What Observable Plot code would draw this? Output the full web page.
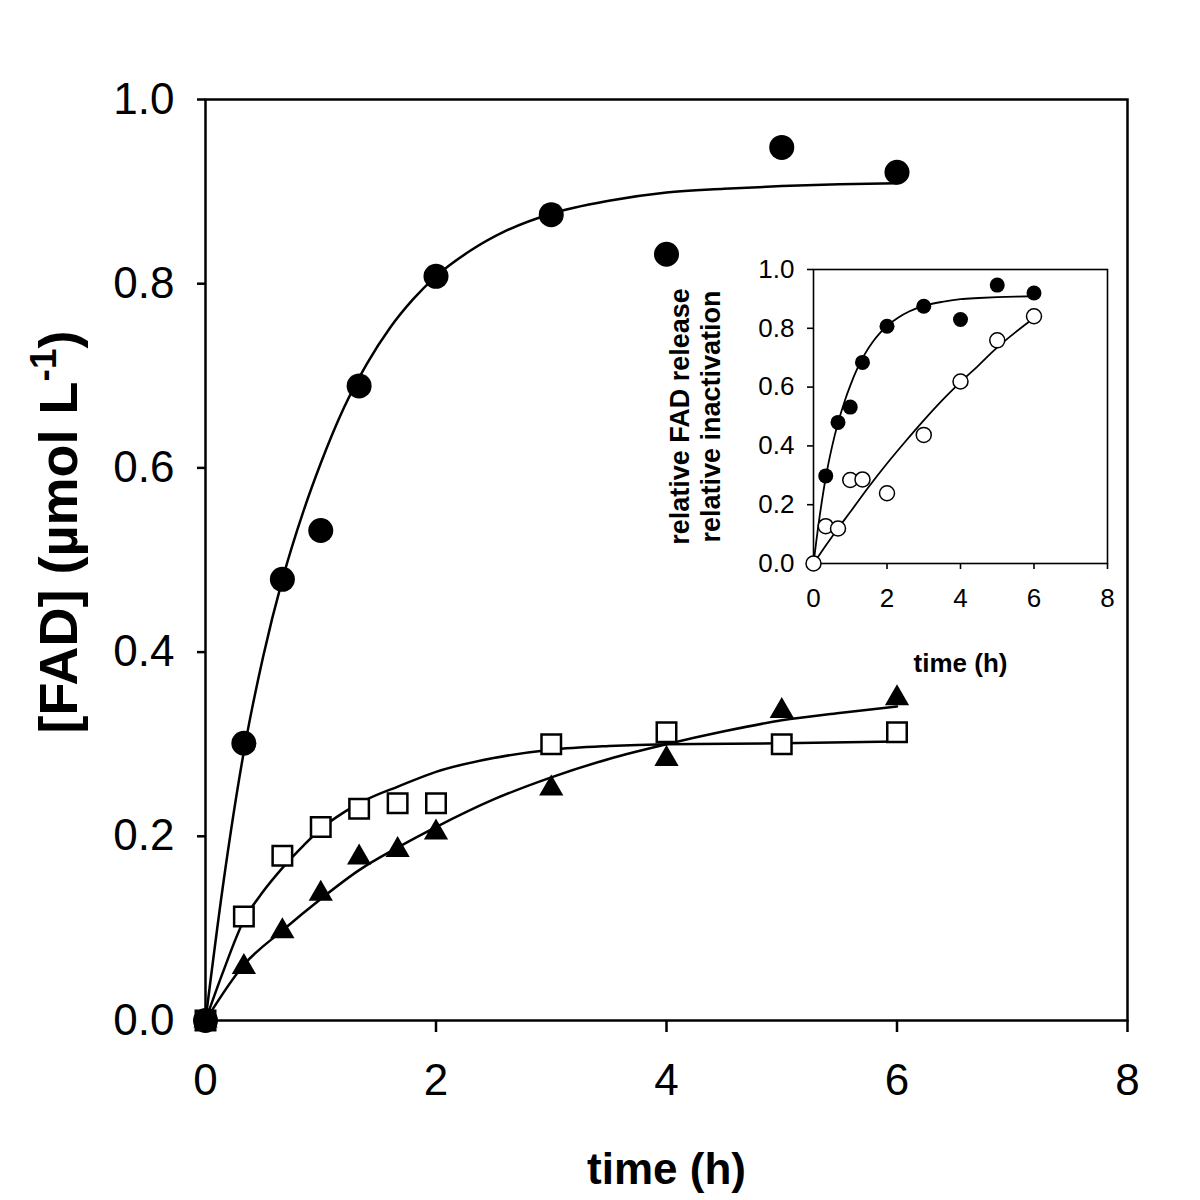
<!DOCTYPE html>
<html><head><meta charset="utf-8">
<script src="https://cdn.jsdelivr.net/npm/d3@7"></script>
<script src="https://cdn.jsdelivr.net/npm/@observablehq/plot@0.6"></script>
<style>
html,body{margin:0;padding:0;background:#fff;}
#wrap{position:relative;width:1200px;height:1200px;background:#fff;}
#main{position:absolute;left:0;top:0;}
#inset{position:absolute;left:640px;top:240px;}
</style></head>
<body><div id="wrap"><div id="main"></div><div id="inset"></div></div>
<script>
// ---- main chart data ----
const circleT = [0, 0.333, 0.667, 1, 1.333, 2, 3, 4, 5, 6];
const circleV = [0, 0.301, 0.479, 0.532, 0.689, 0.808, 0.875, 0.832, 0.948, 0.921];
const squareT = [0, 0.333, 0.667, 1, 1.333, 1.667, 2, 3, 4, 5, 6];
const squareV = [0, 0.113, 0.179, 0.210, 0.230, 0.236, 0.236, 0.300, 0.313, 0.300, 0.313];
const triT = [0, 0.333, 0.667, 1, 1.333, 1.667, 2, 3, 4, 5, 6];
const triV = [0, 0.058, 0.097, 0.1375, 0.177, 0.185, 0.204, 0.252, 0.284, 0.336, 0.350];

// fitted curves
const fitCircleT = [0, 0.15, 0.33, 0.5, 0.67, 0.85, 1, 1.2, 1.4, 1.6, 1.8, 2, 2.3, 2.6, 3, 3.5, 4, 4.5, 5, 5.5, 6];
const fitCircleV = [0, 0.145, 0.29, 0.395, 0.48, 0.553, 0.605, 0.665, 0.713, 0.752, 0.783, 0.808, 0.836, 0.857, 0.876, 0.890, 0.899, 0.903, 0.906, 0.908, 0.909];
const fitSquareT = [0, 0.15, 0.33, 0.5, 0.67, 0.85, 1, 1.2, 1.4, 1.67, 2, 2.5, 3, 3.5, 4, 5, 6];
const fitSquareV = [0, 0.052, 0.108, 0.14, 0.166, 0.19, 0.208, 0.226, 0.240, 0.254, 0.270, 0.285, 0.294, 0.298, 0.300, 0.301, 0.303];
const fitTriT = [0, 0.33, 0.67, 1, 1.33, 1.67, 2, 2.5, 3, 3.5, 4, 4.5, 5, 5.5, 6];
const fitTriV = [0, 0.060, 0.098, 0.132, 0.163, 0.188, 0.210, 0.240, 0.264, 0.284, 0.300, 0.314, 0.326, 0.334, 0.341];

// ---- inset data ----
const insetT = [0, 0.333, 0.667, 1, 1.333, 2, 3, 4, 5, 6];
const insetFadV = [0, 0.298, 0.480, 0.532, 0.684, 0.807, 0.875, 0.830, 0.947, 0.920];
const insetInactV = [0, 0.127, 0.119, 0.284, 0.286, 0.239, 0.4375, 0.619, 0.759, 0.841];
const fitInactT = [0, 0.33, 0.67, 1, 1.5, 2, 2.5, 3, 3.5, 4, 4.5, 5, 5.5, 6];
const fitInactV = [0, 0.06, 0.12, 0.175, 0.26, 0.34, 0.415, 0.487, 0.555, 0.617, 0.675, 0.735, 0.787, 0.835];

// ticks & labels
const xTicks = [0, 2, 4, 6, 8];
const yTicks = [0, 0.2, 0.4, 0.6, 0.8, 1.0];
const mainXLabel = "time (h)";
const mainYLabel = "[FAD] (µmol L-1)";
const insetXLabel = "time (h)";
const insetYLabel1 = "relative FAD release";
const insetYLabel2 = "relative inactivation";

const pts = (T, V) => T.map((t, i) => ({t, v: V[i]}));
const fmt1 = d3.format(".1f");
const FONT = "'Liberation Sans', Arial, Helvetica, sans-serif";

const main = Plot.plot({
  width: 1200, height: 1200,
  marginLeft: 205, marginRight: 73, marginTop: 99, marginBottom: 180,
  x: {domain: [0, 8]},
  y: {domain: [0, 1]},
  style: {fontFamily: FONT, fontSize: "44px", color: "black", background: "transparent", overflow: "visible"},
  marks: [
    Plot.frame({stroke: "black", strokeWidth: 2.5}),
    Plot.axisX({ticks: xTicks, tickSize: 12, tickPadding: 31, strokeWidth: 2.5, label: null}),
    Plot.axisY({ticks: yTicks, tickFormat: fmt1, tickSize: 8, tickPadding: 23, strokeWidth: 2.5, label: null}),
    Plot.line(pts(fitCircleT, fitCircleV), {x: "t", y: "v", stroke: "black", strokeWidth: 2.5, curve: "monotone-x"}),
    Plot.line(pts(fitSquareT, fitSquareV), {x: "t", y: "v", stroke: "black", strokeWidth: 2.5, curve: "monotone-x"}),
    Plot.line(pts(fitTriT, fitTriV), {x: "t", y: "v", stroke: "black", strokeWidth: 2.5, curve: "monotone-x"}),
    Plot.dot(pts(squareT, squareV), {x: "t", y: "v", symbol: "square", r: 11, fill: "white", stroke: "black", strokeWidth: 2.5}),
    Plot.dot(pts(triT, triV), {x: "t", y: "v", symbol: "triangle", r: 9, fill: "black", stroke: "none"}),
    Plot.dot(pts(circleT, circleV), {x: "t", y: "v", r: 12.5, fill: "black", stroke: "none"}),
    Plot.text([mainXLabel], {frameAnchor: "bottom", dy: 149, fontSize: 44, fontWeight: "bold", lineAnchor: "middle", textAnchor: "middle"}),
    Plot.text([mainYLabel], {frameAnchor: "left", dx: -146, dy: -28, rotate: -90, fontSize: 54, fontWeight: "bold", lineAnchor: "middle", textAnchor: "middle"})
  ]
});
document.getElementById("main").appendChild(main);

// superscript for the unit
d3.select(main).selectAll("text").each(function() {
  if (this.textContent === mainYLabel) {
    const sel = d3.select(this);
    sel.text(null);
    sel.append("tspan").text("[FAD] (µmol L");
    sel.append("tspan").attr("dy", -21).attr("font-size", 37).text("-1");
    sel.append("tspan").attr("dy", 21).text(")");
  }
});

const inset = Plot.plot({
  width: 500, height: 460,
  marginLeft: 173, marginRight: 33, marginTop: 29, marginBottom: 137,
  x: {domain: [0, 8]},
  y: {domain: [0, 1]},
  style: {fontFamily: FONT, fontSize: "26px", color: "black", background: "transparent", overflow: "visible"},
  marks: [
    Plot.frame({stroke: "black", strokeWidth: 1.6}),
    Plot.axisX({ticks: xTicks, tickSize: 6, tickPadding: 19, strokeWidth: 1.6, label: null}),
    Plot.axisY({ticks: yTicks, tickFormat: fmt1, tickSize: 6, tickPadding: 13, strokeWidth: 1.6, label: null}),
    Plot.line(pts(fitCircleT, fitCircleV), {x: "t", y: "v", stroke: "black", strokeWidth: 1.8, curve: "monotone-x"}),
    Plot.line(pts(fitInactT, fitInactV), {x: "t", y: "v", stroke: "black", strokeWidth: 1.8, curve: "monotone-x"}),
    Plot.dot(pts(insetT, insetFadV), {x: "t", y: "v", r: 7.5, fill: "black", stroke: "none"}),
    Plot.dot(pts(insetT, insetInactV), {x: "t", y: "v", r: 7.5, fill: "white", stroke: "black", strokeWidth: 1.5}),
    Plot.text([insetXLabel], {frameAnchor: "bottom", dy: 100, fontSize: 26, fontWeight: "bold", lineAnchor: "middle", textAnchor: "middle"}),
    Plot.text([insetYLabel1], {frameAnchor: "left", dx: -133, rotate: -90, fontSize: 27, fontWeight: "bold", lineAnchor: "middle", textAnchor: "middle"}),
    Plot.text([insetYLabel2], {frameAnchor: "left", dx: -102, rotate: -90, fontSize: 27, fontWeight: "bold", lineAnchor: "middle", textAnchor: "middle"})
  ]
});
document.getElementById("inset").appendChild(inset);
</script>
</body></html>
